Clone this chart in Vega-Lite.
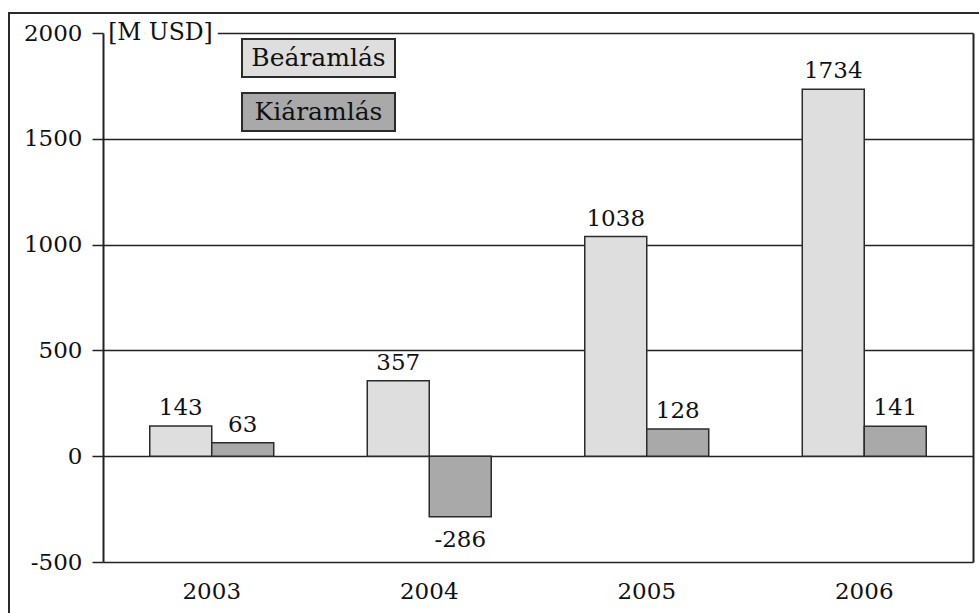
{
  "$schema": "https://vega.github.io/schema/vega-lite/v6.json",
  "width": 970,
  "height": 600,
  "autosize": "none",
  "padding": {"left": 9, "top": 13, "right": 0, "bottom": 0},
  "background": "white",
  "config": {
    "font": "DejaVu Serif",
    "view": {"stroke": "#2b2b2b", "strokeWidth": 2, "strokeDash": [970, 1570, 600]},
    "axis": {"labelFont": "DejaVu Serif", "labelColor": "#111111", "titleFont": "DejaVu Serif"}
  },
  "data": {
    "values": [
      {"year": "2003", "series": "Beáramlás", "value": 143},
      {"year": "2003", "series": "Kiáramlás", "value": 63},
      {"year": "2004", "series": "Beáramlás", "value": 357},
      {"year": "2004", "series": "Kiáramlás", "value": -286},
      {"year": "2005", "series": "Beáramlás", "value": 1038},
      {"year": "2005", "series": "Kiáramlás", "value": 128},
      {"year": "2006", "series": "Beáramlás", "value": 1734},
      {"year": "2006", "series": "Kiáramlás", "value": 141}
    ]
  },
  "resolve": {"axis": {"y": "independent"}},
  "layer": [
    {
      "mark": {"type": "bar", "stroke": "#2b2b2b", "strokeWidth": 1.5},
      "encoding": {
        "x": {
          "field": "year",
          "type": "nominal",
          "scale": {"range": [94, 964], "paddingInner": 0.43, "paddingOuter": 0.215},
          "axis": {
            "orient": "bottom",
            "offset": -51,
            "title": null,
            "domain": false,
            "ticks": false,
            "tickSize": 0,
            "labelAngle": 0,
            "labelFontSize": 23,
            "labelBaseline": "middle",
            "labelPadding": 29
          }
        },
        "xOffset": {"field": "series", "scale": {"paddingInner": 0, "paddingOuter": 0}},
        "y": {
          "field": "value",
          "type": "quantitative",
          "scale": {"domain": [-500, 2000], "range": [549, 20], "nice": false, "zero": false},
          "axis": {
            "orient": "left",
            "offset": -94,
            "zindex": 0,
            "title": null,
            "values": [-500, 0, 500, 1000, 1500, 2000],
            "domain": false,
            "ticks": false,
            "labels": false,
            "grid": true,
            "gridColor": "#222222",
            "gridWidth": 1.5,
            "gridOpacity": 1
          }
        },
        "fill": {
          "field": "series",
          "type": "nominal",
          "scale": {"domain": ["Beáramlás", "Kiáramlás"], "range": ["#dedede", "#a9a9a9"]},
          "legend": {
            "orient": "none",
            "legendX": 289.5,
            "legendY": 25,
            "title": null,
            "padding": 0,
            "symbolType": "M-4.026,-1H4.026V1H-4.026Z",
            "symbolSize": 1444,
            "symbolStrokeColor": "#2b2b2b",
            "symbolStrokeWidth": 2,
            "symbolOpacity": 1,
            "rowPadding": 8,
            "labelAlign": "center",
            "labelBaseline": "middle",
            "labelOffset": -20,
            "labelFont": "DejaVu Serif",
            "labelFontSize": 25,
            "labelColor": "#111111",
            "labelLimit": 0
          }
        }
      }
    },
    {
      "transform": [{"filter": "datum.value >= 0"}],
      "mark": {"type": "text", "baseline": "alphabetic", "dy": -11, "fontSize": 23, "color": "#111111"},
      "encoding": {
        "x": {"field": "year", "type": "nominal"},
        "xOffset": {"field": "series"},
        "y": {
          "field": "value",
          "type": "quantitative",
          "axis": {
            "orient": "left",
            "offset": -94,
            "zindex": 1,
            "title": null,
            "values": [-500, 0, 500, 1000, 1500, 2000],
            "labelExpr": "'' + datum.value",
            "domain": true,
            "domainColor": "#222222",
            "domainWidth": 2,
            "ticks": true,
            "tickSize": 11,
            "tickColor": "#222222",
            "tickWidth": 1.5,
            "labelFontSize": 23,
            "labelPadding": 10,
            "grid": false
          }
        },
        "text": {"field": "value", "type": "nominal"}
      }
    },
    {
      "transform": [{"filter": "datum.value < 0"}],
      "mark": {"type": "text", "baseline": "alphabetic", "dy": 30, "fontSize": 23, "color": "#111111"},
      "encoding": {
        "x": {"field": "year", "type": "nominal"},
        "xOffset": {"field": "series"},
        "y": {
          "field": "value",
          "type": "quantitative",
          "axis": {
            "orient": "right",
            "offset": -6,
            "title": null,
            "labels": false,
            "ticks": false,
            "grid": false,
            "domain": true,
            "domainColor": "#222222",
            "domainWidth": 2
          }
        },
        "text": {"field": "value", "type": "nominal"}
      }
    },
    {
      "data": {"values": [{"unit": "[M USD]"}]},
      "mark": {"type": "text", "align": "right", "baseline": "middle", "dx": 1, "fontSize": 23.5, "fill": "white", "stroke": "white", "strokeWidth": 14, "strokeJoin": "round"},
      "encoding": {
        "x": {"datum": "2003", "type": "nominal"},
        "y": {"datum": 2000, "type": "quantitative", "axis": null},
        "text": {"field": "unit"}
      }
    },
    {
      "data": {"values": [{"unit": "[M USD]"}]},
      "mark": {"type": "text", "align": "right", "baseline": "middle", "dx": 1, "fontSize": 23.5, "color": "#111111"},
      "encoding": {
        "x": {"datum": "2003", "type": "nominal"},
        "y": {"datum": 2000, "type": "quantitative", "axis": null},
        "text": {"field": "unit"}
      }
    }
  ]
}
